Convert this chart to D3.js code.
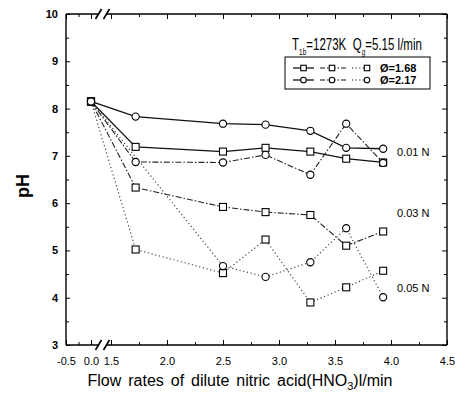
<!DOCTYPE html>
<html><head><meta charset="utf-8">
<script src="https://cdn.jsdelivr.net/npm/d3@7"></script>
<style>body{margin:0;background:#fff}svg{display:block}</style>
</head><body>
<svg id="c" width="461" height="398"></svg>
<script>
// ---- data ----
const flowRates = [0.0, 1.72, 2.5, 2.88, 3.28, 3.6, 3.93];
const ph_001N_168 = [8.15, 7.19, 7.09, 7.17, 7.09, 6.94, 6.86];
const ph_001N_217 = [8.15, 7.83, 7.68, 7.66, 7.53, 7.17, 7.15];
const ph_003N_168 = [8.15, 6.33, 5.92, 5.81, 5.75, 5.10, 5.40];
const ph_003N_217 = [8.15, 6.87, 6.86, 7.02, 6.60, 7.68, 6.85];
const ph_005N_168 = [8.15, 5.02, 4.52, 5.23, 3.90, 4.22, 4.57];
const ph_005N_217 = [8.15, null, 4.67, 4.44, 4.75, 5.47, 4.01];
const yTicks = [3, 4, 5, 6, 7, 8, 9, 10];
const yMinor = [3.5, 4.5, 5.5, 6.5, 7.5, 8.5, 9.5];
const xTicksMajor = [-0.5, 0.0, 1.5, 2.0, 2.5, 3.0, 3.5, 4.0, 4.5];
const xTickLabels = ["-0.5", "0.0", "1.5", "2.0", "2.5", "3.0", "3.5", "4.0", "4.5"];
const xMinor = [-0.25, 1.75, 2.25, 2.75, 3.25, 3.75, 4.25];
const concLabels = ["0.01 N", "0.03 N", "0.05 N"];
const legendLabels = ["\u00D8=1.68", "\u00D8=2.17"];

const series = [
  {v: ph_001N_168, sym: "square", dash: null, w: 1.3, c: "#111"},
  {v: ph_001N_217, sym: "circle", dash: null, w: 1.3, c: "#111"},
  {v: ph_003N_168, sym: "square", dash: "6,2,1.5,2", w: 1.1, c: "#222"},
  {v: ph_003N_217, sym: "circle", dash: "6,2,1.5,2", w: 1.1, c: "#222"},
  {v: ph_005N_168, sym: "square", dash: "1.2,2.6", w: 1.2, c: "#444"},
  {v: ph_005N_217, sym: "circle", dash: "1.2,2.6", w: 1.2, c: "#444"}
];

// ---- layout ----
const L = 66, R = 447, T = 14, B = 345;
const brkA = 98.5, brkB = 106.5;
const svg = d3.select("#c");
const font = "'Liberation Sans', Arial, sans-serif";

const x = d3.scaleLinear().domain([-0.5, 0.15, 1.46, 4.5]).range([L, brkA, brkB, R]);
const y = d3.scaleLinear().domain([3, 10]).range([B, T]);

// axes (ticks inward)
const fmt = d => xTickLabels[xTicksMajor.indexOf(d)];
const gb = svg.append("g").attr("transform", `translate(0,${B})`)
  .call(d3.axisBottom(x).tickValues(xTicksMajor).tickSizeInner(-5).tickSizeOuter(0).tickPadding(12).tickFormat(fmt));
gb.selectAll("text").attr("font-size", 11).attr("font-family", font).attr("fill", "#000");
svg.append("g").attr("transform", `translate(0,${B})`)
  .call(d3.axisBottom(x).tickValues(xMinor).tickSizeInner(-3).tickSizeOuter(0).tickFormat(""));
svg.append("g").attr("transform", `translate(0,${T})`)
  .call(d3.axisTop(x).tickValues(xTicksMajor).tickSizeInner(-5).tickSizeOuter(0).tickFormat(""));
svg.append("g").attr("transform", `translate(0,${T})`)
  .call(d3.axisTop(x).tickValues(xMinor).tickSizeInner(-3).tickSizeOuter(0).tickFormat(""));
const gl = svg.append("g").attr("transform", `translate(${L},0)`)
  .call(d3.axisLeft(y).tickValues(yTicks).tickSizeInner(5).tickSizeOuter(0).tickPadding(3).tickFormat(d3.format("d")));
gl.selectAll("text").attr("font-size", 11).attr("font-weight", "bold").attr("font-family", font).attr("fill", "#000");
gl.selectAll(".tick line").attr("x2", 4);
svg.append("g").attr("transform", `translate(${L},0)`)
  .call(d3.axisLeft(y).tickValues(yMinor).tickSizeInner(-3).tickSizeOuter(0).tickFormat(""));
svg.append("g").attr("transform", `translate(${R},0)`)
  .call(d3.axisRight(y).tickValues(yTicks).tickSizeInner(-5).tickSizeOuter(0).tickFormat(""));
svg.append("g").attr("transform", `translate(${R},0)`)
  .call(d3.axisRight(y).tickValues(yMinor).tickSizeInner(-3).tickSizeOuter(0).tickFormat(""));
svg.selectAll(".domain").remove();
svg.selectAll(".tick line").attr("stroke", "#000").attr("stroke-width", 1);

// frame with axis break
const frame = svg.append("g").attr("stroke", "#000").attr("stroke-width", 1.4).attr("fill", "none");
[[L, T, brkA, T], [brkB, T, R, T], [L, B, brkA, B], [brkB, B, R, B], [L, T, L, B], [R, T, R, B]]
  .forEach(s => frame.append("line").attr("x1", s[0]).attr("y1", s[1]).attr("x2", s[2]).attr("y2", s[3]));
[T, B].forEach(yy => {
  [brkA, brkB].forEach(xx => frame.append("line")
    .attr("x1", xx - 3).attr("y1", yy + 5).attr("x2", xx + 3).attr("y2", yy - 5).attr("stroke-width", 1.6));
});

// lines
const line = d3.line().x(d => x(d[0])).y(d => y(d[1]));
function pts(v) { return flowRates.map((f, i) => [f, v[i]]).filter(p => p[1] != null); }
series.forEach(s => {
  svg.append("path").datum(pts(s.v)).attr("d", line).attr("fill", "none")
    .attr("stroke", s.c).attr("stroke-width", s.w).attr("stroke-dasharray", s.dash);
});
function drawSym(g, sym, cx, cy, k) {
  k = k || 1;
  if (sym === "square") g.append("rect").attr("x", cx - 3.5 * k).attr("y", cy - 3.5 * k).attr("width", 7 * k).attr("height", 7 * k)
    .attr("fill", "#fff").attr("stroke", "#000").attr("stroke-width", 1.1);
  else g.append("circle").attr("cx", cx).attr("cy", cy).attr("r", 3.6 * k)
    .attr("fill", "#fff").attr("stroke", "#000").attr("stroke-width", 1.1);
}
const gs = svg.append("g");
series.forEach(s => pts(s.v).forEach(p => drawSym(gs, s.sym, x(p[0]), y(p[1]))));

// concentration labels
const concY = [7.08, 5.79, 4.2];
concLabels.forEach((t, i) => svg.append("text").attr("x", 397).attr("y", y(concY[i]) + 4)
  .attr("font-size", 11).attr("font-family", font).text(t));

// header
const hdr = svg.append("g");
const ht = hdr.append("text").attr("x", 0).attr("y", 0).attr("font-size", 16).attr("font-family", font);
ht.append("tspan").text("T");
ht.append("tspan").attr("font-size", 9).attr("dy", 5).text("1b");
ht.append("tspan").attr("dy", -5).text("=1273K\u00A0\u00A0Q");
ht.append("tspan").attr("font-size", 9).attr("dy", 5).text("g");
ht.append("tspan").attr("dy", -5).text("=5.15 l/min");
const hw = ht.node().getBBox().width;
hdr.attr("transform", `translate(292,50) scale(${130 / hw},1)`);

// legend
svg.append("rect").attr("x", 285).attr("y", 57).attr("width", 145).attr("height", 32)
  .attr("fill", "none").attr("stroke", "#000").attr("stroke-width", 1);
const legRows = [{y: 68, sym: "square"}, {y: 80, sym: "circle"}];
const legSegs = [
  {x1: 293, x2: 314, m: 303.5, dash: null, w: 1.3},
  {x1: 320, x2: 346, m: 332, dash: "5,2,1.5,2", w: 1.1},
  {x1: 352, x2: 367, m: 367, dash: "1.2,2.4", w: 1.2}
];
legRows.forEach((r, i) => {
  legSegs.forEach(sg => {
    svg.append("line").attr("x1", sg.x1).attr("x2", sg.x2).attr("y1", r.y).attr("y2", r.y)
      .attr("stroke", "#111").attr("stroke-width", sg.w).attr("stroke-dasharray", sg.dash);
    drawSym(svg, r.sym, sg.m, r.y, 0.78);
  });
  svg.append("text").attr("x", 380).attr("y", r.y + 4).attr("font-size", 11).attr("font-weight", "bold")
    .attr("font-family", font).text(legendLabels[i]);
});

// axis titles
svg.append("text").attr("transform", "translate(29,186) rotate(-90)").attr("text-anchor", "middle")
  .attr("font-size", 18).attr("font-weight", "bold").attr("font-family", font).text("pH");
const xt = svg.append("text").attr("x", 240).attr("y", 386).attr("text-anchor", "middle")
  .attr("font-size", 16).attr("word-spacing", 2.5).attr("font-family", font);
xt.append("tspan").text("Flow rates of dilute nitric acid(HNO");
xt.append("tspan").attr("font-size", 11).attr("dy", 4).text("3");
xt.append("tspan").attr("dy", -4).text(")l/min");
</script>
</body></html>
